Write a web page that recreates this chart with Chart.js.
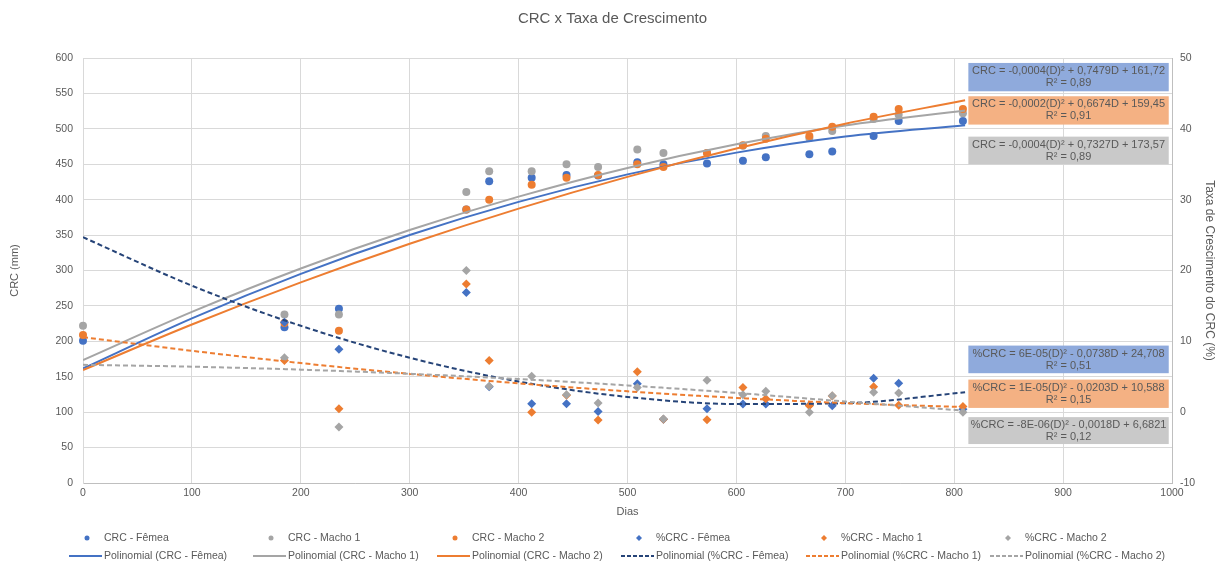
<!DOCTYPE html>
<html>
<head>
<meta charset="utf-8">
<script src="https://cdn.jsdelivr.net/npm/chart.js@4.4.0/dist/chart.umd.min.js"></script>
<style>
  body { margin: 0; background: #ffffff; }
  #wrap { width: 1225px; height: 573px; }
</style>
</head>
<body>
<div id="wrap"><canvas id="chart-crc" width="1225" height="573"></canvas></div>
<script>
//------------------------------------------------ DADOS ------------------------------------------------
const dias = [0, 185, 235, 352, 373, 412, 444, 473, 509, 533, 573, 606, 627, 667, 688, 726, 749, 808];

// CRC (mm) - eixo esquerdo
const crcFemea  = [201, 220, 246, 386, 426, 431, 435, 434, 453, 450, 451, 455, 460, 464, 468, 490, 511, 511];
const crcMacho1 = [222, 238, 238, 411, 440, 440, 450, 446, 471, 466, 466, 476, 490, 487, 497, 514, 520, 522];
const crcMacho2 = [209, 226, 215, 386, 400, 421, 431, 435, 450, 446, 466, 477, 486, 490, 503, 517, 528, 528];

// %CRC - eixo direito
const pctFemea  = [null, 12.7, 8.9, 16.9, 3.6, 1.2, 1.2, 0.1, 4.0, -1.0, 0.5, 1.15, 1.15, 0.96, 0.92, 4.8, 4.1, 0.4];
const pctMacho1 = [null, 7.3, 0.5, 18.1, 7.3, 0.0, 2.4, -1.1, 5.7, -1.0, -1.06, 3.5, 1.9, 0.9, 2.3, 3.6, 0.96, 0.8];
const pctMacho2 = [null, 7.7, -2.1, 20.0, 3.65, 5.06, 2.47, 1.3, 3.5, -0.96, 4.5, 2.47, 2.94, 0.0, 2.33, 2.8, 2.7, 0.0];

// linhas de tendencia
const diasTend = [0, 100, 200, 300, 400, 500, 600, 700, 810];
const tendCrcFemea  = [161.7, 232.5, 295.3, 350.1, 396.9, 435.7, 466.4, 489.2, 505.1];
const tendCrcMacho1 = [173.6, 241.6, 302.9, 357.1, 404.3, 444.8, 478.2, 504.8, 526.0];
const tendCrcMacho2 = [159.5, 223.8, 283.2, 337.7, 387.4, 432.2, 472.2, 507.3, 540.4];
const tendPctFemea  = [24.7, 17.86, 12.19, 7.68, 4.33, 2.15, 1.15, 1.26, 2.8];
const tendPctMacho1 = [10.59, 8.66, 6.93, 5.4, 4.07, 2.94, 2.01, 1.28, 0.71];
const tendPctMacho2 = [6.68, 6.42, 6.0, 5.42, 4.68, 3.78, 2.72, 1.5, 0.2];

// equacoes
const eqLinha1 = [
    'CRC = -0,0004(D)² + 0,7479D + 161,72',
    'CRC = -0,0002(D)² + 0,6674D + 159,45',
    'CRC = -0,0004(D)² + 0,7327D + 173,57',
    '%CRC = 6E-05(D)² - 0,0738D + 24,708',
    '%CRC = 1E-05(D)² - 0,0203D + 10,588',
    '%CRC = -8E-06(D)² - 0,0018D + 6,6821'
];
const eqLinha2 = ['R² = 0,89', 'R² = 0,91', 'R² = 0,89', 'R² = 0,51', 'R² = 0,15', 'R² = 0,12'];

const tituloGrafico = 'CRC x Taxa de Crescimento';

//------------------------------------------------ ESTILO ------------------------------------------------
const AZUL = '#4472C4', CINZA = '#A5A5A5', LARANJA = '#ED7D31', AZUL_ESC = '#264478';
const TEXTO = '#595959';
const FONTE = "'Liberation Sans', Arial, sans-serif";

function pts(xs, ys) {
    return xs.map((x, i) => ({ x: x, y: ys[i] }));
}

function serie(label, ys, cor, estilo, eixo) {
    return {
        label: label,
        data: pts(dias, ys),
        yAxisID: eixo,
        showLine: false,
        clip: false,
        pointStyle: estilo,
        pointRadius: estilo === 'circle' ? 4 : 4.5,
        pointBackgroundColor: cor,
        pointBorderColor: cor,
        pointBorderWidth: 0,
        backgroundColor: cor,
        borderColor: cor
    };
}

function tendencia(label, ys, cor, tracejado, eixo) {
    return {
        label: label,
        data: pts(diasTend, ys),
        yAxisID: eixo,
        showLine: true,
        pointRadius: 0,
        borderColor: cor,
        backgroundColor: cor,
        borderWidth: 2,
        borderDash: tracejado ? [5, 3] : [],
        cubicInterpolationMode: 'monotone',
        fill: false
    };
}

const datasets = [
    serie('CRC - Fêmea', crcFemea, AZUL, 'circle', 'y'),
    serie('CRC - Macho 1', crcMacho1, CINZA, 'circle', 'y'),
    serie('CRC - Macho 2', crcMacho2, LARANJA, 'circle', 'y'),
    serie('%CRC - Fêmea', pctFemea, AZUL, 'rectRot', 'y2'),
    serie('%CRC - Macho 1', pctMacho1, LARANJA, 'rectRot', 'y2'),
    serie('%CRC - Macho 2', pctMacho2, CINZA, 'rectRot', 'y2'),
    tendencia('Polinomial (CRC - Fêmea)', tendCrcFemea, AZUL, false, 'y'),
    tendencia('Polinomial (CRC - Macho 1)', tendCrcMacho1, CINZA, false, 'y'),
    tendencia('Polinomial (CRC - Macho 2)', tendCrcMacho2, LARANJA, false, 'y'),
    tendencia('Polinomial (%CRC - Fêmea)', tendPctFemea, AZUL_ESC, true, 'y2'),
    tendencia('Polinomial (%CRC - Macho 1)', tendPctMacho1, LARANJA, true, 'y2'),
    tendencia('Polinomial (%CRC - Macho 2)', tendPctMacho2, CINZA, true, 'y2')
];
// series posteriores por cima (como no Excel)
datasets.forEach((d, i) => { d.order = 100 - i; });

// caixas das equacoes: posicao em unidades dos eixos (dias / eixo direito)
const caixaCores = ['#8FAADC', '#F4B183', '#C9C9C9', '#8FAADC', '#F4B183', '#C9C9C9'];
const caixaTopo = [49.3, 44.6, 38.9, 9.4, 4.6, -0.7];
const caixaBase = [45.3, 40.6, 35.0, 5.5, 0.6, -4.5];

// legenda
const legX = [104, 288, 472, 656, 841, 1025];
const legY = [538, 556];

const extras = {
    id: 'extras',
    afterDatasetsDraw(chart) {
        const ctx = chart.ctx;
        const sx = chart.scales.x, sy = chart.scales.y2;
        ctx.save();
        for (let i = 0; i < eqLinha1.length; i++) {
            const x0 = sx.getPixelForValue(813), x1 = sx.getPixelForValue(997);
            const y0 = sy.getPixelForValue(caixaTopo[i]), y1 = sy.getPixelForValue(caixaBase[i]);
            ctx.fillStyle = caixaCores[i];
            ctx.fillRect(x0, y0, x1 - x0, y1 - y0);
            ctx.fillStyle = TEXTO;
            ctx.font = '11px ' + FONTE;
            ctx.textAlign = 'center';
            ctx.textBaseline = 'middle';
            const cx = (x0 + x1) / 2;
            ctx.fillText(eqLinha1[i], cx, y0 + 8);
            ctx.fillText(eqLinha2[i], cx, y0 + 20);
        }
        ctx.restore();
    },
    afterDraw(chart) {
        const ctx = chart.ctx;
        ctx.save();
        // titulo
        ctx.fillStyle = TEXTO;
        ctx.font = '15px ' + FONTE;
        ctx.textAlign = 'center';
        ctx.textBaseline = 'middle';
        ctx.fillText(tituloGrafico, chart.width / 2, 19);

        // legenda em grade 6 x 2
        ctx.font = '10.5px ' + FONTE;
        ctx.textAlign = 'left';
        chart.data.datasets.forEach((d, i) => {
            const col = i % 6, row = Math.floor(i / 6);
            const tx = legX[col], ty = legY[row];
            if (row === 0) {
                ctx.fillStyle = d.pointBackgroundColor;
                ctx.beginPath();
                if (d.pointStyle === 'circle') {
                    ctx.arc(tx - 17, ty, 2.5, 0, Math.PI * 2);
                } else {
                    ctx.moveTo(tx - 17, ty - 3);
                    ctx.lineTo(tx - 14, ty);
                    ctx.lineTo(tx - 17, ty + 3);
                    ctx.lineTo(tx - 20, ty);
                    ctx.closePath();
                }
                ctx.fill();
            } else {
                ctx.strokeStyle = d.borderColor;
                ctx.lineWidth = 2;
                ctx.setLineDash(d.borderDash.length ? [4, 2] : []);
                ctx.beginPath();
                ctx.moveTo(tx - 35, ty);
                ctx.lineTo(tx - 2, ty);
                ctx.stroke();
                ctx.setLineDash([]);
            }
            ctx.fillStyle = TEXTO;
            ctx.fillText(d.label, tx, ty);
        });
        ctx.restore();
    }
};

const tickFont = { family: FONTE, size: 10.5 };

var ctxCrc = document.getElementById('chart-crc').getContext('2d');
var chart_crc = new Chart(ctxCrc, {
    type: 'scatter',
    data: { datasets: datasets },
    options: {
        responsive: false,
        devicePixelRatio: 1,
        animation: false,
        layout: { padding: { top: 58, bottom: 50, left: 0, right: 0 } },
        plugins: {
            legend: { display: false },
            title: { display: false },
            tooltip: { enabled: false }
        },
        scales: {
            x: {
                type: 'linear',
                min: 0,
                max: 1000,
                ticks: { stepSize: 100, color: TEXTO, font: tickFont, padding: 4, maxRotation: 0,
                    callback: (v) => String(v) },
                grid: { color: '#D9D9D9', drawTicks: false },
                border: { color: '#BFBFBF' },
                title: { display: true, text: 'Dias', color: TEXTO, font: { family: FONTE, size: 11 }, padding: { top: 0, bottom: 4 } },
                afterFit(scale) { scale.height = 40; }
            },
            y: {
                position: 'left',
                min: 0,
                max: 600,
                ticks: { stepSize: 50, color: TEXTO, font: tickFont, padding: 10 },
                grid: { color: '#D9D9D9', drawTicks: false },
                border: { color: '#D9D9D9' },
                title: { display: true, text: 'CRC (mm)', color: TEXTO, font: { family: FONTE, size: 11 }, padding: { top: 8, bottom: 0 } },
                afterFit(scale) { scale.width = 83; }
            },
            y2: {
                position: 'right',
                min: -10,
                max: 50,
                ticks: { stepSize: 10, color: TEXTO, font: tickFont, padding: 8 },
                grid: { display: false, drawTicks: false },
                border: { color: '#BFBFBF' },
                title: { display: true, text: 'Taxa de Crescimento do CRC (%)', color: TEXTO, font: { family: FONTE, size: 12 }, padding: { top: 8, bottom: 0 } },
                afterFit(scale) { scale.width = 53; }
            }
        }
    },
    plugins: [extras]
});
</script>
</body>
</html>
